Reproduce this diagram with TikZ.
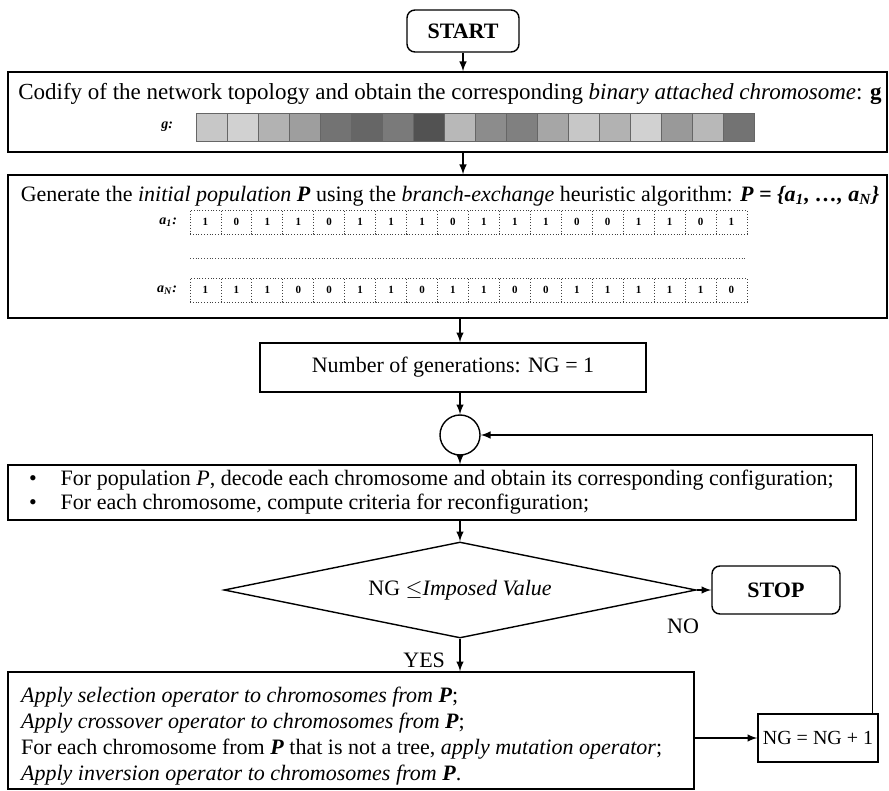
\documentclass[tikz,border=0pt]{standalone}
\usepackage{fontspec}
\setmainfont{Liberation Serif}
\usetikzlibrary{shapes.geometric}

\begin{document}
\begin{tikzpicture}[x=0.5pt,y={(0pt,-0.5pt)},>=latex,
		font=\fontsize{11}{12}\selectfont,
		terminal/.style={draw,line width=0.7pt,rounded corners=4pt,font=\fontsize{11}{12}\selectfont\bfseries,minimum width=56pt,minimum height=21pt},
		stepbox/.style={draw,line width=0.7pt,inner sep=0pt},
		bitcell/.style={draw=black!75,densely dotted,minimum width=15.47pt,minimum height=12pt,inner sep=0pt,font=\fontsize{5.5}{5.5}\selectfont\bfseries},
		gcell/.style={draw=black!60,minimum width=15.5pt,minimum height=14pt,inner sep=0pt},
		rowlabel/.style={font=\fontsize{7}{7}\selectfont\bfseries\itshape,anchor=east}]
	\useasboundingbox (0,0) rectangle (889,791);
	
	% terminals and process boxes
	\node[terminal] (start) at (463,31) {START};
	\node[stepbox,minimum width=439.5pt,minimum height=40pt] (codify) at (447.5,112) {};
	\node[stepbox,minimum width=439.5pt,minimum height=71.5pt] (initpop) at (447.5,246.5) {};
	\node[stepbox,minimum width=193pt,minimum height=24.5pt] (ngone) at (453,367.5) {Number of generations: NG = 1};
	\node[draw,circle,line width=0.7pt,minimum size=20pt,inner sep=0pt] (merge) at (460,435) {};
	\node[stepbox,minimum width=424pt,minimum height=27.5pt] (decode) at (432,492.5) {};
	\node[diamond,draw,line width=0.7pt,aspect=4.9,minimum width=236pt,minimum height=48pt,inner sep=0pt] (test) at (460,590) {NG $\leq$\textit{Imposed Value}};
	\node[terminal,minimum width=64pt,minimum height=24pt] (stop) at (776,590) {STOP};
	\node[stepbox,minimum width=343pt,minimum height=58.5pt] (operators) at (351,730.5) {};
	\node[stepbox,minimum width=60pt,minimum height=24pt,font=\fontsize{10}{12}\selectfont] (ngplus) at (818,738) {NG = NG + 1};
	
	% texts inside the boxes
	\node (codifytext) at (450,94) {\fontsize{11.5}{12}\selectfont Codify of the network topology and obtain the corresponding \textit{binary attached chromosome}: \textbf{g}};
	\node[rowlabel] (glabel) at (180,127) {g:};
	\foreach \s [count=\i] in {22,18,30,38,55,60,52,68,28,45,50,35,22,30,18,40,28,55}
		\node[gcell,fill=black!\s] (g-\i) at ({196+(\i-0.5)*31},127) {};
	
	\node (inittext) at (450,196) {Generate the \textit{initial population} \textbf{\textit{P}} using the \textit{branch-exchange} heuristic algorithm: \textbf{\textit{P = \{a\textsubscript{1}, \dots, a\textsubscript{N}\}}}};
	\node[rowlabel] (aonelabel) at (184,222) {a\textsubscript{1}:};
	\foreach \b [count=\i] in {1,0,1,1,0,1,1,1,0,1,1,1,0,0,1,1,0,1}
		\node[bitcell] (aone-\i) at ({190+(\i-0.5)*30.94},222) {\b};
	\coordinate (dotl) at (190,258);
	\coordinate (dotr) at (747,258);
	\draw[densely dotted,black!70] (dotl) -- (dotr);
	\node[rowlabel] (anlabel) at (184,290) {a\textsubscript{N}:};
	\foreach \b [count=\i] in {1,1,1,0,0,1,1,0,1,1,0,0,1,1,1,1,1,0}
		\node[bitcell] (an-\i) at ({190+(\i-0.5)*30.94},290) {\b};
	
	\node[anchor=west,align=left] (decodetext) at (22,492.5) {\textbullet\hspace{12pt}For population \textit{P}, decode each chromosome and obtain its corresponding configuration;\\
		\textbullet\hspace{12pt}For each chromosome, compute criteria for reconfiguration;};
	
	\node[anchor=north west,align=left,font=\fontsize{11}{13}\selectfont] (optext) at (14,680) {\textit{Apply selection operator to chromosomes from} \textbf{\textit{P}};\\
		\textit{Apply crossover operator to chromosomes from} \textbf{\textit{P}};\\
		For each chromosome from \textbf{\textit{P}} that is not a tree, \textit{apply mutation operator};\\
		\textit{Apply inversion operator to chromosomes from} \textbf{\textit{P}}.};
	
	% connectors
	\path[->,line width=0.7pt]
	(start) edge (start |- codify.north)
	(start |- codify.south) edge (start |- initpop.north)
	(merge |- initpop.south) edge (merge |- ngone.north)
	(merge |- ngone.south) edge (merge)
	(merge) edge (merge |- decode.north)
	(merge |- decode.south) edge (test)
	(test) edge (stop)
	(test.south) edge (test.south |- operators.north)
	(operators.east |- ngplus) edge (ngplus);
	\draw[->,line width=0.7pt] ([xshift=-3pt]ngplus.north east) |- (merge);
	
	\node[anchor=north] (nolabel) at (683,612) {NO};
	\node[anchor=east] (yeslabel) at (452,660) {YES};
\end{tikzpicture}
\end{document}
